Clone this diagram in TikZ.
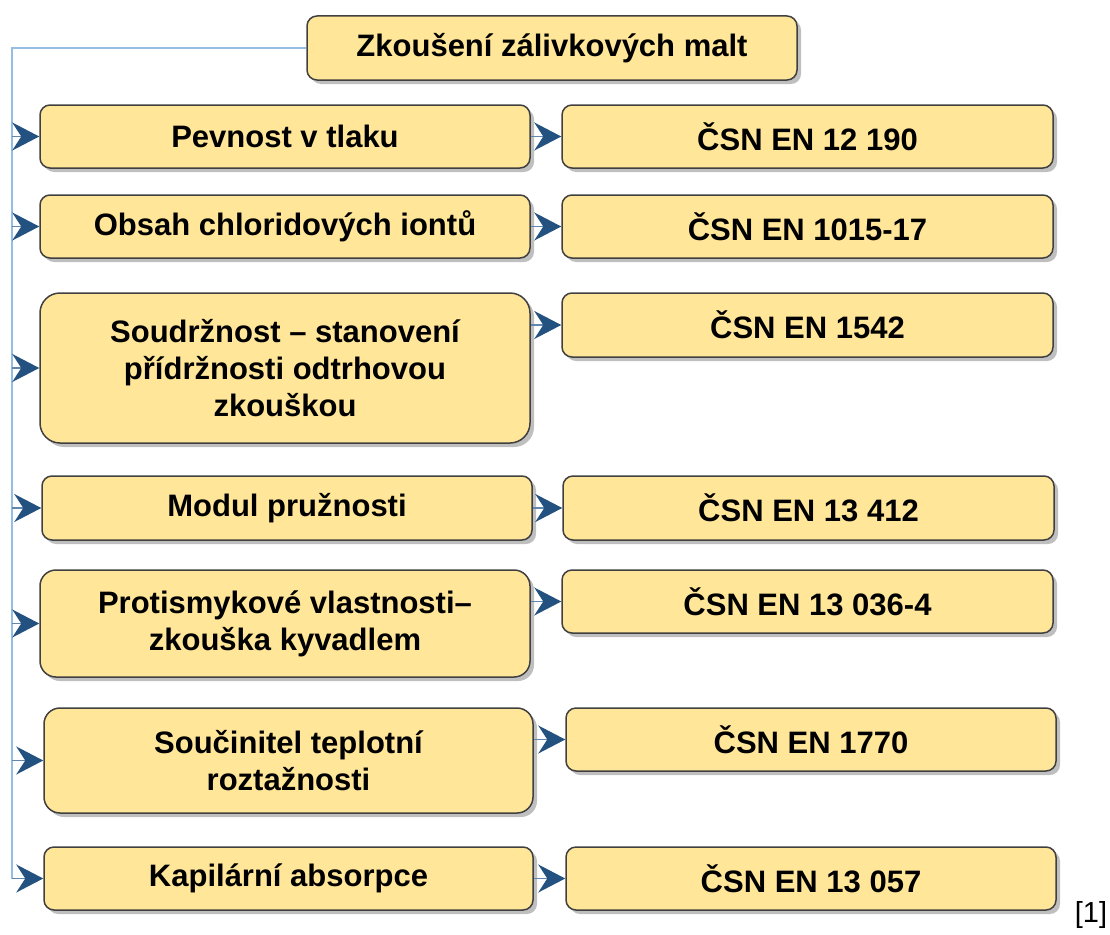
\documentclass[tikz,border=0pt]{standalone}
\usepackage{fontspec}
\setmainfont{Liberation Sans}
\usepackage{xcolor}
\usepackage{tikz}
\usetikzlibrary{positioning,arrows.meta,shadows}
\definecolor{boxfill}{RGB}{255,230,153}
\definecolor{boxline}{RGB}{64,64,64}
\definecolor{spineblue}{RGB}{150,190,228}
\definecolor{stemblue}{RGB}{95,135,175}
\definecolor{tipblue}{RGB}{36,82,128}
\tikzset{
  mbox/.style  = {draw=boxline, line width=1.5pt, fill=boxfill, rounded corners=10pt, align=center,
                  inner sep=0pt, font=\bfseries\fontsize{31}{37}\selectfont,
                  drop shadow={shadow xshift=4pt, shadow yshift=-4pt, opacity=0.25, fill=black}},
  flow/.style  = {-{Stealth[length=27pt, width=28pt, inset=9pt, color=tipblue]}, line width=1.8pt, draw=stemblue},
  spine/.style = {line width=1.5pt, draw=spineblue},
}

\begin{document}
\begin{tikzpicture}[x=1pt, y=-1pt]
  \useasboundingbox (0,0) rectangle (1110,934);
  \coordinate (top) at (12,48);
  \coordinate (bot) at (12,878.5);
  % title and spine
  \node[mbox, minimum width=490pt, minimum height=64pt] (title) at (552,48) {Zkoušení zálivkových malt};
  \draw[spine] (title.west) -- (top) -- (bot);
  % properties
  \node[mbox, minimum width=490pt, minimum height=63pt] (prop1) at (285,136.5) {Pevnost v tlaku};
  \node[mbox, minimum width=490pt, minimum height=63pt] (prop2) at (285,226.5) {Obsah chloridových iontů};
  \node[mbox, minimum width=490pt, minimum height=150pt, rounded corners=20pt] (prop3) at (285,368)
    {Soudržnost – stanovení\\přídržnosti odtrhovou\\zkouškou};
  \node[mbox, minimum width=490pt, minimum height=64pt] (prop4) at (287,508) {Modul pružnosti};
  \node[mbox, minimum width=490pt, minimum height=107pt, rounded corners=16pt] (prop5) at (285,623.5)
    {Protismykové vlastnosti–\\zkouška kyvadlem};
  \node[mbox, minimum width=489pt, minimum height=105pt, rounded corners=16pt] (prop6) at (288.5,760.5)
    {Součinitel teplotní\\roztažnosti};
  \node[mbox, minimum width=489pt, minimum height=63pt] (prop7) at (288.5,878.5) {Kapilární absorpce};
  % standards
  \node[mbox, minimum width=491pt, minimum height=63pt] (norm1) at (807.5,136.5) {ČSN EN 12 190};
  \node[mbox, minimum width=491pt, minimum height=63pt] (norm2) at (807.5,226.5) {ČSN EN 1015-17};
  \node[mbox, minimum width=491pt, minimum height=64pt] (norm3) at (807.5,325) {ČSN EN 1542};
  \node[mbox, minimum width=491pt, minimum height=64pt] (norm4) at (808.5,508) {ČSN EN 13 412};
  \node[mbox, minimum width=491pt, minimum height=63pt] (norm5) at (807.5,601.5) {ČSN EN 13 036-4};
  \node[mbox, minimum width=490pt, minimum height=63pt] (norm6) at (811,739.5) {ČSN EN 1770};
  \node[mbox, minimum width=490pt, minimum height=63pt] (norm7) at (811,878.5) {ČSN EN 13 057};
  % connectors
  \draw[flow] (top |- prop1.west) -- (prop1.west);
  \draw[flow] (top |- prop2.west) -- (prop2.west);
  \draw[flow] (top |- prop3.west) -- (prop3.west);
  \draw[flow] (top |- prop4.west) -- (prop4.west);
  \draw[flow] (top |- prop5.west) -- (prop5.west);
  \draw[flow] (top |- prop6.west) -- (prop6.west);
  \draw[flow] (top |- prop7.west) -- (prop7.west);
  \draw[flow] (prop1.east |- norm1.west) -- (norm1.west);
  \draw[flow] (prop2.east |- norm2.west) -- (norm2.west);
  \draw[flow] (prop3.east |- norm3.west) -- (norm3.west);
  \draw[flow] (prop4.east |- norm4.west) -- (norm4.west);
  \draw[flow] (prop5.east |- norm5.west) -- (norm5.west);
  \draw[flow] (prop6.east |- norm6.west) -- (norm6.west);
  \draw[flow] (prop7.east |- norm7.west) -- (norm7.west);
  \node[font=\fontsize{29}{34}\selectfont] (cite) at (1091,915) {[1]};
\end{tikzpicture}
\end{document}
